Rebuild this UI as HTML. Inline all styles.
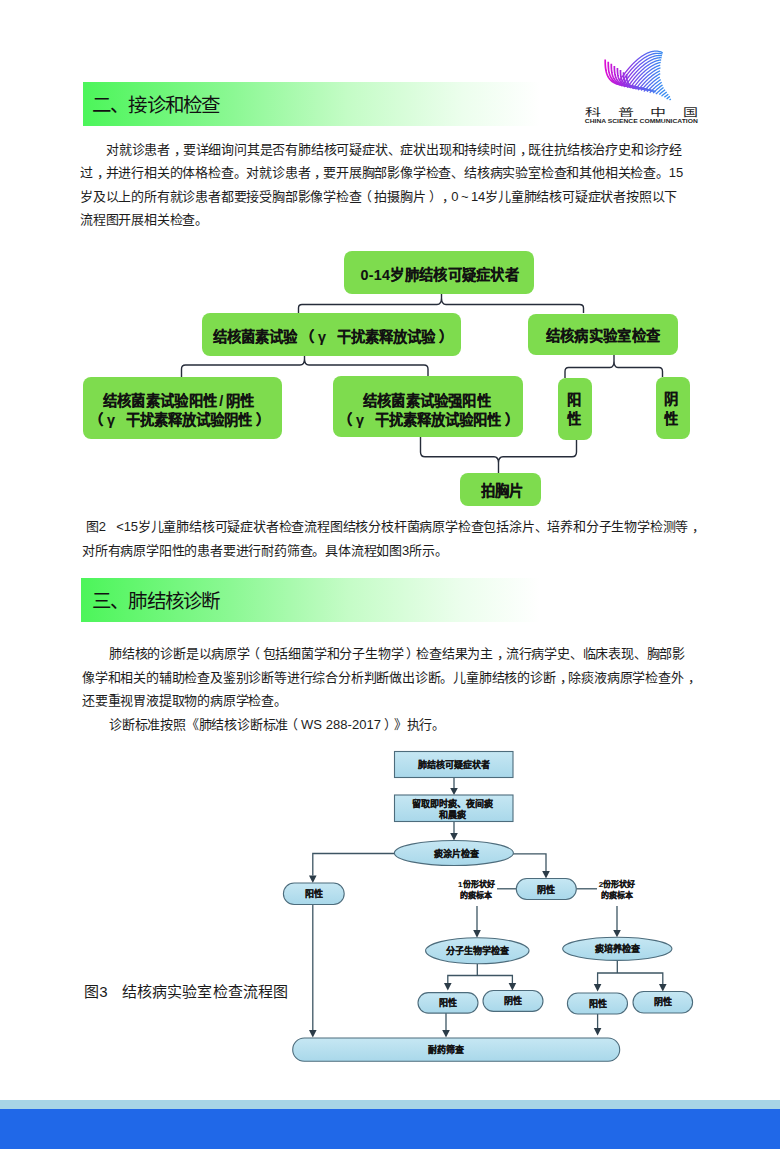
<!DOCTYPE html>
<html lang="zh-CN">
<head>
<meta charset="utf-8">
<style>
html,body{margin:0;padding:0;background:#fff;}
body{width:780px;height:1149px;position:relative;overflow:hidden;font-family:"Liberation Sans",sans-serif;color:#1a1a1a;}
.a{position:absolute;white-space:nowrap;}
.bar{position:absolute;left:83px;width:457px;height:44px;background:linear-gradient(90deg,#4cf55a 0%,#8cf894 33%,#c4fcc6 58%,#ecfeed 83%,#ffffff 100%);}
.ht{position:absolute;font-size:19.5px;letter-spacing:-1.8px;line-height:24px;color:#111;white-space:nowrap;}
.p{position:absolute;font-size:13px;letter-spacing:-0.2px;line-height:16px;white-space:nowrap;color:#1c1c1c;text-spacing-trim:space-all;}
.g{position:absolute;background:#7edc4e;border-radius:8px;}
.t{position:absolute;font-weight:bold;font-size:14.3px;line-height:20px;color:#111;white-space:nowrap;text-spacing-trim:space-all;-webkit-text-stroke:0.1px #111;}
.sl{display:inline-block;width:8.2px;text-align:center;}
.lp{display:inline-block;width:21px;text-indent:3px;}
.rp{display:inline-block;width:14.5px;text-indent:4.5px;}
.sp{display:inline-block;width:11px;}
i.cm,i.lq,i.rq{font-style:normal;position:relative;}
i.cm{left:4px;}
i.lq{left:-3px;}
i.rq{left:3px;}
i.tl{font-style:normal;display:inline-block;width:12.8px;text-align:center;}
.footer1{position:absolute;left:0;top:1100px;width:780px;height:9px;background:#a7d5e6;}
.footer2{position:absolute;left:0;top:1109px;width:780px;height:40px;background:#2068e8;}
</style>
</head>
<body>

<!-- logo -->
<svg class="a" style="left:580px;top:40px" width="130" height="90" viewBox="580 40 130 90">
  <defs>
    <linearGradient id="lg" x1="604" y1="0" x2="676" y2="0" gradientUnits="userSpaceOnUse">
      <stop offset="0" stop-color="#e20ad2"/>
      <stop offset="0.25" stop-color="#a02ae0"/>
      <stop offset="0.5" stop-color="#6a58ee"/>
      <stop offset="0.78" stop-color="#3a88f0"/>
      <stop offset="1" stop-color="#2e92f2"/>
    </linearGradient>
  </defs>
  <g id="swoosh" fill="none" stroke="url(#lg)" stroke-linecap="butt" stroke-linejoin="round">
<path d="M605.20 59.60 L605.22 62.65 L605.29 64.62 L605.40 66.31 L605.55 67.83 L605.74 69.24 L605.98 70.55 L606.26 71.78 L606.59 72.94 L606.95 74.04 L607.36 75.08 L607.82 76.06 L608.31 76.99 L608.85 77.87 L609.43 78.69 L610.06 79.47 L610.73 80.19 L611.44 80.87 L612.19 81.49 L613.00 82.07 L613.84 82.59 L614.74 83.07 L615.69 83.49 L616.69 83.87 L617.75 84.20 L618.89 84.47 L620.10 84.70 L621.41 84.87 L622.87 85.00 L624.57 85.07 L627.20 85.10 L629.60 85.65 L632.00 86.20 L634.40 86.75 L636.80 87.30 L639.20 87.85" stroke-width="1.7"/>
<path d="M608.26 61.70 L608.28 64.56 L608.34 66.41 L608.45 67.99 L608.59 69.42 L608.78 70.74 L609.01 71.97 L609.28 73.13 L609.60 74.22 L609.95 75.25 L610.35 76.23 L610.79 77.15 L611.27 78.02 L611.79 78.84 L612.35 79.62 L612.96 80.34 L613.60 81.02 L614.29 81.66 L615.02 82.24 L615.80 82.78 L616.62 83.27 L617.49 83.72 L618.41 84.12 L619.38 84.47 L620.40 84.78 L621.50 85.04 L622.67 85.25 L623.95 85.42 L625.36 85.53 L627.00 85.60 L629.54 85.63 L631.94 86.18 L634.34 86.73 L636.74 87.28 L639.14 87.83 L641.54 88.38" stroke-width="1.7"/>
<path d="M611.31 63.80 L611.33 66.47 L611.40 68.20 L611.50 69.68 L611.64 71.02 L611.82 72.25 L612.04 73.40 L612.31 74.48 L612.61 75.50 L612.95 76.46 L613.34 77.37 L613.76 78.23 L614.23 79.05 L614.73 79.82 L615.27 80.54 L615.86 81.22 L616.48 81.85 L617.15 82.45 L617.85 82.99 L618.60 83.50 L619.40 83.96 L620.24 84.37 L621.12 84.75 L622.06 85.08 L623.05 85.36 L624.11 85.61 L625.25 85.80 L626.48 85.96 L627.84 86.07 L629.43 86.14 L631.89 86.16 L634.29 86.71 L636.69 87.26 L639.09 87.81 L641.49 88.36 L643.89 88.91" stroke-width="1.7"/>
<path d="M614.37 65.90 L614.39 68.38 L614.45 69.99 L614.55 71.37 L614.68 72.61 L614.86 73.75 L615.08 74.82 L615.33 75.83 L615.62 76.78 L615.95 77.67 L616.33 78.52 L616.73 79.32 L617.18 80.08 L617.67 80.79 L618.19 81.46 L618.76 82.10 L619.36 82.69 L620.00 83.24 L620.68 83.74 L621.41 84.21 L622.17 84.64 L622.98 85.03 L623.84 85.38 L624.74 85.68 L625.70 85.95 L626.72 86.17 L627.82 86.36 L629.01 86.50 L630.32 86.60 L631.85 86.67 L634.23 86.69 L636.63 87.24 L639.03 87.79 L641.43 88.34 L643.83 88.89 L646.23 89.44" stroke-width="1.7"/>
<path d="M617.43 68.00 L617.45 70.30 L617.50 71.78 L617.60 73.05 L617.73 74.20 L617.90 75.26 L618.11 76.25 L618.35 77.18 L618.64 78.05 L618.95 78.88 L619.31 79.66 L619.71 80.41 L620.14 81.11 L620.61 81.77 L621.11 82.39 L621.66 82.97 L622.24 83.52 L622.86 84.02 L623.51 84.50 L624.21 84.93 L624.95 85.32 L625.73 85.68 L626.56 86.00 L627.43 86.29 L628.35 86.53 L629.34 86.74 L630.39 86.91 L631.54 87.04 L632.81 87.14 L634.28 87.20 L636.57 87.21 L638.97 87.76 L641.37 88.31 L643.77 88.86 L646.17 89.41 L648.57 89.96" stroke-width="1.7"/>
<path d="M620.49 70.10 L620.50 72.21 L620.56 73.57 L620.65 74.74 L620.78 75.79 L620.94 76.77 L621.14 77.67 L621.38 78.53 L621.65 79.33 L621.96 80.09 L622.30 80.81 L622.68 81.49 L623.09 82.13 L623.55 82.74 L624.03 83.31 L624.56 83.85 L625.11 84.35 L625.71 84.81 L626.34 85.25 L627.02 85.64 L627.73 86.01 L628.48 86.34 L629.27 86.63 L630.11 86.89 L631.00 87.12 L631.95 87.31 L632.97 87.46 L634.07 87.59 L635.29 87.67 L636.71 87.73 L638.91 87.74 L641.31 88.29 L643.71 88.84 L646.11 89.39 L648.51 89.94 L650.91 90.49" stroke-width="1.7"/>
<path d="M623.54 72.20 L623.56 74.12 L623.61 75.36 L623.70 76.43 L623.82 77.39 L623.98 78.27 L624.17 79.10 L624.40 79.88 L624.66 80.61 L624.96 81.30 L625.29 81.96 L625.65 82.58 L626.05 83.16 L626.48 83.71 L626.95 84.23 L627.45 84.72 L627.99 85.18 L628.57 85.60 L629.17 86.00 L629.82 86.36 L630.50 86.69 L631.22 86.99 L631.99 87.26 L632.80 87.50 L633.65 87.70 L634.56 87.88 L635.54 88.02 L636.60 88.13 L637.77 88.21 L639.14 88.26 L641.26 88.27 L643.66 88.82 L646.06 89.37 L648.46 89.92 L650.86 90.47 L653.26 91.02" stroke-width="1.7"/>
<path d="M626.60 74.30 L626.62 76.03 L626.67 77.15 L626.75 78.11 L626.87 78.98 L627.02 79.78 L627.20 80.53 L627.42 81.23 L627.67 81.89 L627.96 82.51 L628.27 83.10 L628.62 83.66 L629.01 84.19 L629.42 84.69 L629.87 85.16 L630.35 85.60 L630.87 86.01 L631.42 86.39 L632.00 86.75 L632.62 87.07 L633.28 87.37 L633.97 87.64 L634.70 87.89 L635.48 88.10 L636.30 88.29 L637.18 88.44 L638.11 88.57 L639.13 88.67 L640.26 88.74 L641.57 88.79 L643.60 88.80 L646.00 89.35 L648.40 89.90 L650.80 90.45 L653.20 91.00 L655.60 91.55" stroke-width="1.7"/>
<path d="M619.52 80.41 L620.12 79.61 L620.71 78.81 L621.31 78.01 L621.91 77.21 L622.51 76.41 L623.11 75.60 L623.70 74.80 L624.30 74.00 L624.90 73.20 L625.36 72.59 L625.83 71.97 L626.32 71.35 L626.81 70.73 L627.31 70.11 L627.83 69.48 L628.35 68.85 L628.88 68.23 L629.43 67.60 L629.98 66.98 L630.54 66.36 L631.11 65.74 L631.68 65.13 L632.27 64.52 L632.86 63.91 L633.46 63.31 L634.06 62.72 L634.68 62.13 L635.30 61.55 L635.92 60.98 L636.55 60.42 L637.19 59.86 L637.83 59.32 L638.48 58.79 L639.13 58.27 L639.79 57.76 L640.45 57.27 L641.11 56.79 L641.78 56.33 L642.45 55.88 L643.12 55.44 L643.80 55.02 L644.48 54.62 L645.16 54.24 L645.84 53.87 L646.53 53.53 L647.21 53.20 L647.90 52.90 L648.59 52.62 L649.28 52.36 L649.97 52.12 L650.65 51.90 L651.34 51.71 L652.03 51.54 L652.72 51.40 L653.40 51.29 L654.08 51.20 L654.77 51.14 L655.45 51.11 L656.12 51.10 L656.80 51.13 L657.47 51.18 L658.14 51.27 L658.80 51.39 L659.46 51.54 L660.12 51.72 L660.77 51.94 L661.42 52.19 L662.06 52.48 L662.70 52.80" stroke-width="1.3"/>
<path d="M619.33 85.02 L619.92 84.22 L620.52 83.42 L621.12 82.61 L621.72 81.81 L622.31 81.01 L622.91 80.21 L623.51 79.41 L624.11 78.61 L624.71 77.80 L625.30 77.00 L625.90 76.20 L626.50 75.40 L626.96 74.79 L627.43 74.17 L627.92 73.55 L628.41 72.93 L628.91 72.31 L629.43 71.68 L629.95 71.05 L630.48 70.43 L631.03 69.80 L631.58 69.18 L632.14 68.56 L632.71 67.94 L633.28 67.33 L633.87 66.72 L634.46 66.11 L635.06 65.51 L635.66 64.92 L636.28 64.33 L636.90 63.75 L637.52 63.18 L638.15 62.62 L638.79 62.06 L639.43 61.52 L640.08 60.99 L640.73 60.47 L641.39 59.96 L642.05 59.47 L642.71 58.99 L643.38 58.53 L644.05 58.08 L644.72 57.64 L645.40 57.22 L646.08 56.82 L646.76 56.44 L647.44 56.07 L648.13 55.73 L648.81 55.40 L649.50 55.10 L650.19 54.82 L650.88 54.56 L651.57 54.32 L652.25 54.10 L652.94 53.91 L653.63 53.74 L654.32 53.60 L655.00 53.49 L655.68 53.40 L656.37 53.34 L657.05 53.31 L657.72 53.30 L658.40 53.33 L659.07 53.38 L659.74 53.47 L660.40 53.59 L661.06 53.74 L661.72 53.92 L662.37 54.14" stroke-width="1.3"/>
<path d="M621.52 86.42 L622.12 85.62 L622.72 84.81 L623.32 84.01 L623.91 83.21 L624.51 82.41 L625.11 81.61 L625.71 80.81 L626.31 80.00 L626.90 79.20 L627.50 78.40 L628.10 77.60 L628.56 76.99 L629.03 76.37 L629.52 75.75 L630.01 75.13 L630.51 74.51 L631.03 73.88 L631.55 73.25 L632.08 72.63 L632.63 72.00 L633.18 71.38 L633.74 70.76 L634.31 70.14 L634.88 69.53 L635.47 68.92 L636.06 68.31 L636.66 67.71 L637.26 67.12 L637.88 66.53 L638.50 65.95 L639.12 65.38 L639.75 64.82 L640.39 64.26 L641.03 63.72 L641.68 63.19 L642.33 62.67 L642.99 62.16 L643.65 61.67 L644.31 61.19 L644.98 60.73 L645.65 60.27 L646.32 59.84 L647.00 59.42 L647.68 59.02 L648.36 58.64 L649.04 58.27 L649.73 57.93 L650.41 57.60 L651.10 57.30 L651.79 57.02 L652.48 56.76 L653.17 56.52 L653.85 56.30 L654.54 56.11 L655.23 55.94 L655.92 55.80 L656.60 55.69 L657.28 55.60 L657.97 55.54 L658.65 55.51 L659.32 55.50 L660.00 55.53 L660.67 55.58 L661.34 55.67 L662.00 55.79" stroke-width="1.3"/>
<path d="M624.32 87.01 L624.92 86.21 L625.51 85.41 L626.11 84.61 L626.71 83.81 L627.31 83.01 L627.91 82.20 L628.50 81.40 L629.10 80.60 L629.70 79.80 L630.16 79.19 L630.63 78.57 L631.12 77.95 L631.61 77.33 L632.11 76.71 L632.63 76.08 L633.15 75.45 L633.68 74.83 L634.23 74.20 L634.78 73.58 L635.34 72.96 L635.91 72.34 L636.48 71.73 L637.07 71.12 L637.66 70.51 L638.26 69.91 L638.86 69.32 L639.48 68.73 L640.10 68.15 L640.72 67.58 L641.35 67.02 L641.99 66.46 L642.63 65.92 L643.28 65.39 L643.93 64.87 L644.59 64.36 L645.25 63.87 L645.91 63.39 L646.58 62.93 L647.25 62.48 L647.92 62.04 L648.60 61.62 L649.28 61.22 L649.96 60.84 L650.64 60.47 L651.33 60.13 L652.01 59.80 L652.70 59.50 L653.39 59.22 L654.08 58.96 L654.77 58.72 L655.45 58.50 L656.14 58.31 L656.83 58.14 L657.52 58.00 L658.20 57.89 L658.88 57.80 L659.57 57.74 L660.25 57.71 L660.92 57.70 L661.60 57.73" stroke-width="1.3"/>
<path d="M627.11 87.61 L627.71 86.81 L628.31 86.01 L628.91 85.21 L629.51 84.40 L630.10 83.60 L630.70 82.80 L631.30 82.00 L631.76 81.39 L632.23 80.77 L632.72 80.15 L633.21 79.53 L633.71 78.91 L634.23 78.28 L634.75 77.65 L635.28 77.03 L635.83 76.40 L636.38 75.78 L636.94 75.16 L637.51 74.54 L638.08 73.93 L638.67 73.32 L639.26 72.71 L639.86 72.11 L640.46 71.52 L641.08 70.93 L641.70 70.35 L642.32 69.78 L642.95 69.22 L643.59 68.66 L644.23 68.12 L644.88 67.59 L645.53 67.07 L646.19 66.56 L646.85 66.07 L647.51 65.59 L648.18 65.13 L648.85 64.67 L649.52 64.24 L650.20 63.82 L650.88 63.42 L651.56 63.04 L652.24 62.67 L652.93 62.33 L653.61 62.00 L654.30 61.70 L654.99 61.42 L655.68 61.16 L656.37 60.92 L657.05 60.70 L657.74 60.51 L658.43 60.34 L659.12 60.20 L659.80 60.09 L660.48 60.00 L661.17 59.94" stroke-width="1.3"/>
<path d="M629.91 88.21 L630.51 87.41 L631.11 86.60 L631.70 85.80 L632.30 85.00 L632.90 84.20 L633.36 83.59 L633.83 82.97 L634.32 82.35 L634.81 81.73 L635.31 81.11 L635.83 80.48 L636.35 79.85 L636.88 79.23 L637.43 78.60 L637.98 77.98 L638.54 77.36 L639.11 76.74 L639.68 76.13 L640.27 75.52 L640.86 74.91 L641.46 74.31 L642.06 73.72 L642.68 73.13 L643.30 72.55 L643.92 71.98 L644.55 71.42 L645.19 70.86 L645.83 70.32 L646.48 69.79 L647.13 69.27 L647.79 68.76 L648.45 68.27 L649.11 67.79 L649.78 67.33 L650.45 66.88 L651.12 66.44 L651.80 66.02 L652.48 65.62 L653.16 65.24 L653.84 64.87 L654.53 64.53 L655.21 64.20 L655.90 63.90 L656.59 63.62 L657.28 63.36 L657.97 63.12 L658.65 62.90 L659.34 62.71 L660.03 62.54 L660.72 62.40" stroke-width="1.3"/>
<path d="M632.71 88.80 L633.30 88.00 L633.90 87.20 L634.50 86.40 L634.96 85.79 L635.43 85.17 L635.92 84.55 L636.41 83.93 L636.91 83.31 L637.43 82.68 L637.95 82.05 L638.48 81.43 L639.03 80.80 L639.58 80.18 L640.14 79.56 L640.71 78.94 L641.28 78.33 L641.87 77.72 L642.46 77.11 L643.06 76.51 L643.66 75.92 L644.28 75.33 L644.90 74.75 L645.52 74.18 L646.15 73.62 L646.79 73.06 L647.43 72.52 L648.08 71.99 L648.73 71.47 L649.39 70.96 L650.05 70.47 L650.71 69.99 L651.38 69.53 L652.05 69.08 L652.72 68.64 L653.40 68.22 L654.08 67.82 L654.76 67.44 L655.44 67.07 L656.13 66.73 L656.81 66.40 L657.50 66.10 L658.19 65.82 L658.88 65.56 L659.57 65.32 L660.25 65.10" stroke-width="1.3"/>
<path d="M635.50 89.40 L636.10 88.60 L636.56 87.99 L637.03 87.37 L637.52 86.75 L638.01 86.13 L638.51 85.51 L639.03 84.88 L639.55 84.25 L640.08 83.63 L640.63 83.00 L641.18 82.38 L641.74 81.76 L642.31 81.14 L642.88 80.53 L643.47 79.92 L644.06 79.31 L644.66 78.71 L645.26 78.12 L645.88 77.53 L646.50 76.95 L647.12 76.38 L647.75 75.82 L648.39 75.26 L649.03 74.72 L649.68 74.19 L650.33 73.67 L650.99 73.16 L651.65 72.67 L652.31 72.19 L652.98 71.73 L653.65 71.28 L654.32 70.84 L655.00 70.42 L655.68 70.02 L656.36 69.64 L657.04 69.27 L657.73 68.93 L658.41 68.60 L659.10 68.30 L659.79 68.02 L660.48 67.76" stroke-width="1.3"/>
<path d="M638.16 90.19 L638.63 89.57 L639.12 88.95 L639.61 88.33 L640.11 87.71 L640.63 87.08 L641.15 86.45 L641.68 85.83 L642.23 85.20 L642.78 84.58 L643.34 83.96 L643.91 83.34 L644.48 82.73 L645.07 82.12 L645.66 81.51 L646.26 80.91 L646.86 80.32 L647.48 79.73 L648.10 79.15 L648.72 78.58 L649.35 78.02 L649.99 77.46 L650.63 76.92 L651.28 76.39 L651.93 75.87 L652.59 75.36 L653.25 74.87 L653.91 74.39 L654.58 73.93 L655.25 73.47 L655.92 73.04 L656.60 72.62 L657.28 72.22 L657.96 71.84 L658.64 71.47 L659.33 71.13 L660.01 70.80" stroke-width="1.3"/>
<path d="M641.21 90.53 L641.71 89.91 L642.23 89.28 L642.75 88.65 L643.28 88.03 L643.83 87.40 L644.38 86.78 L644.94 86.16 L645.51 85.54 L646.08 84.93 L646.67 84.32 L647.26 83.71 L647.86 83.11 L648.46 82.52 L649.08 81.93 L649.70 81.35 L650.32 80.78 L650.95 80.22 L651.59 79.66 L652.23 79.12 L652.88 78.59 L653.53 78.07 L654.19 77.56 L654.85 77.07 L655.51 76.59 L656.18 76.13 L656.85 75.67 L657.52 75.24 L658.20 74.82 L658.88 74.42 L659.56 74.04 L660.24 73.67" stroke-width="1.3"/>
<path d="M643.83 91.48 L644.35 90.85 L644.88 90.23 L645.43 89.60 L645.98 88.98 L646.54 88.36 L647.11 87.74 L647.68 87.13 L648.27 86.52 L648.86 85.91 L649.46 85.31 L650.06 84.72 L650.68 84.13 L651.30 83.55 L651.92 82.98 L652.55 82.42 L653.19 81.86 L653.83 81.32 L654.48 80.79 L655.13 80.27 L655.79 79.76 L656.45 79.27 L657.11 78.79 L657.78 78.33 L658.45 77.88 L659.12 77.44 L659.80 77.02" stroke-width="1.3"/>
<path d="M647.03 91.80 L647.58 91.18 L648.14 90.56 L648.71 89.94 L649.28 89.33 L649.87 88.72 L650.46 88.11 L651.06 87.51 L651.66 86.92 L652.28 86.33 L652.90 85.75 L653.52 85.18 L654.15 84.62 L654.79 84.06 L655.43 83.52 L656.08 82.99 L656.73 82.47 L657.39 81.96 L658.05 81.47 L658.71 80.99 L659.38 80.53 L660.05 80.08 L660.72 79.64" stroke-width="1.3"/>
<path d="M649.74 92.76 L650.31 92.14 L650.88 91.53 L651.47 90.92 L652.06 90.31 L652.66 89.71 L653.26 89.12 L653.88 88.53 L654.50 87.95 L655.12 87.38 L655.75 86.82 L656.39 86.26 L657.03 85.72 L657.68 85.19 L658.33 84.67 L658.99 84.16 L659.65 83.67 L660.31 83.19 L660.98 82.73 L661.65 82.28" stroke-width="1.3"/>
<path d="M653.07 93.12 L653.66 92.51 L654.26 91.91 L654.86 91.32 L655.48 90.73 L656.10 90.15 L656.72 89.58 L657.35 89.02 L657.99 88.46 L658.63 87.92 L659.28 87.39 L659.93 86.87 L660.59 86.36 L661.25 85.87 L661.91 85.39 L662.58 84.93" stroke-width="1.3"/>
<path d="M655.86 94.11 L656.46 93.52 L657.08 92.93 L657.70 92.35 L658.32 91.78 L658.95 91.22 L659.59 90.66 L660.23 90.12 L660.88 89.59 L661.53 89.07 L662.19 88.56 L662.85 88.07 L663.51 87.59" stroke-width="1.3"/>
<path d="M659.30 94.55 L659.92 93.98 L660.55 93.42 L661.19 92.86 L661.83 92.32 L662.48 91.79 L663.13 91.27 L663.79 90.76 L664.45 90.27 L665.11 89.79" stroke-width="1.3"/>
<path d="M661.52 96.18 L662.15 95.62 L662.79 95.06 L663.43 94.52 L664.08 93.99 L664.73 93.47 L665.39 92.96 L666.05 92.47 L666.71 91.99" stroke-width="1.3"/>
<path d="M664.39 97.26 L665.03 96.72 L665.68 96.19 L666.33 95.67 L666.99 95.16 L667.65 94.67 L668.31 94.19" stroke-width="1.3"/>
<path d="M666.63 98.92 L667.28 98.39 L667.93 97.87 L668.59 97.36 L669.25 96.87 L669.91 96.39" stroke-width="1.3"/>
<path d="M669.53 100.07 L670.19 99.56 L670.85 99.07" stroke-width="1.3"/>
</g>
  <g font-size="10" fill="#1e1e1e"><text transform="translate(584.8 116.3) scale(1.6 1)">科</text><text transform="translate(617.7 116.3) scale(1.6 1)">普</text><text transform="translate(649.7 116.3) scale(1.6 1)">中</text><text transform="translate(682.6 116.3) scale(1.5 1)">国</text></g>
  <text x="584.8" y="123.3" font-size="5.6" fill="#1e1e1e" font-weight="bold" textLength="113" lengthAdjust="spacingAndGlyphs">CHINA SCIENCE COMMUNICATION</text>
</svg>

<!-- section 2 header -->
<div class="bar" style="top:82px"></div>
<div class="ht" style="left:92px;top:92.5px">二、接诊和检查</div>

<div class="p" style="left:106px;top:142px">对就诊患者<i class="cm">，</i>要详细询问其是否有肺结核可疑症状、症状出现和持续时间<i class="cm">，</i>既往抗结核治疗史和诊疗经</div>
<div class="p" style="left:80px;top:165px">过<i class="cm">，</i>并进行相关的体格检查。对就诊患者<i class="cm">，</i>要开展胸部影像学检查、结核病实验室检查和其他相关检查。15</div>
<div class="p" style="left:80px;top:189px">岁及以上的所有就诊患者都要接受胸部影像学检查<i class="lq">（</i>拍摄胸片<i class="rq">）</i><i class="cm">，</i>0<i class="tl">~</i>14岁儿童肺结核可疑症状者按照以下</div>
<div class="p" style="left:80px;top:212px">流程图开展相关检查。</div>

<!-- flowchart 1 -->
<svg class="a" style="left:0;top:0" width="780" height="520" viewBox="0 0 780 520">
  <g fill="none" stroke="#262c3a" stroke-width="1.4" stroke-linejoin="round">
    <path d="M298.5 313 V308 Q298.5 304.5 302 304.5 H437 Q441.5 304.5 441.5 298 V294 M441.5 298 Q441.5 304.5 446 304.5 H579.5 Q583.5 304.5 583.5 308 V313"/>
    <path d="M181.5 377 V369 Q181.5 365 185.5 365 H300 Q304.5 365 304.5 359 V356 M304.5 359 Q304.5 365 309 365 H424 Q428 365 428 369 V376"/>
    <path d="M565 378 V371.5 Q565 367.5 568.5 367.5 H610 Q614 367.5 614 361 V354 M614 361 Q614 367.5 618 367.5 H659 Q662.5 367.5 662.5 371.5 V377"/>
    <path d="M420.5 436 V452 Q420.5 456.8 425 456.8 H494 Q498.5 456.8 498.5 463 V473 M498.5 463 Q498.5 456.8 503 456.8 H572 Q576.5 456.8 576.5 452 V439"/>
  </g>
</svg>
<div class="g" style="left:344px;top:251px;width:190px;height:43px"></div>
<div class="g" style="left:202px;top:313px;width:259px;height:43px"></div>
<div class="g" style="left:528px;top:313.5px;width:150px;height:41px"></div>
<div class="g" style="left:83px;top:376.5px;width:199px;height:62px"></div>
<div class="g" style="left:332.5px;top:376px;width:190px;height:61px"></div>
<div class="g" style="left:558px;top:377.5px;width:34px;height:62px"></div>
<div class="g" style="left:655.5px;top:377px;width:34.5px;height:61.5px"></div>
<div class="g" style="left:459.5px;top:472.5px;width:81.5px;height:33.5px"></div>
<div class="t" style="left:360.5px;top:264.5px;letter-spacing:0.3px">0-14岁肺结核可疑症状者</div>
<div class="t" style="left:213px;top:327px">结核菌素试验<span class="lp">（</span>γ<span class="sp"></span>干扰素释放试验<span class="rp">）</span></div>
<div class="t" style="left:545.5px;top:326px;letter-spacing:0.35px">结核病实验室检查</div>
<div class="t" style="left:102.5px;top:390.5px;letter-spacing:0.35px">结核菌素试验阳性<span class="sl">/</span>阴性</div>
<div class="t" style="left:86px;top:410px"><span class="lp">（</span>γ<span class="sp"></span>干扰素释放试验阴性<span class="rp">）</span></div>
<div class="t" style="left:363px;top:391px;letter-spacing:0.2px">结核菌素试验强阳性</div>
<div class="t" style="left:335px;top:410px"><span class="lp">（</span>γ<span class="sp"></span>干扰素释放试验阳性<span class="rp">）</span></div>
<div class="t" style="left:567px;top:389.5px">阳</div>
<div class="t" style="left:567px;top:409px">性</div>
<div class="t" style="left:663.5px;top:389px">阴</div>
<div class="t" style="left:663.5px;top:409px">性</div>
<div class="t" style="left:480.5px;top:481px">拍胸片</div>

<!-- caption -->
<div class="p" style="left:86px;top:519px">图2<span style="display:inline-block;width:10.5px"></span>&lt;15岁儿童肺结核可疑症状者检查流程图结核分枝杆菌病原学检查包括涂片、培养和分子生物学检测等<i class="cm">，</i></div>
<div class="p" style="left:82px;top:543px">对所有病原学阳性的患者要进行耐药筛查。具体流程如图3所示。</div>

<!-- section 3 header -->
<div class="bar" style="top:578px;left:81px;width:459px"></div>
<div class="ht" style="left:92px;top:588.5px">三、肺结核诊断</div>

<div class="p" style="left:109px;top:646px">肺结核的诊断是以病原学<i class="lq">（</i>包括细菌学和分子生物学<i class="rq">）</i>检查结果为主<i class="cm">，</i>流行病学史、临床表现、胸部影</div>
<div class="p" style="left:82px;top:670px">像学和相关的辅助检查及鉴别诊断等进行综合分析判断做出诊断。儿童肺结核的诊断<i class="cm">，</i>除痰液病原学检查外<i class="cm">，</i></div>
<div class="p" style="left:82px;top:693px">还要重视胃液提取物的病原学检查。</div>
<div class="p" style="left:109px;top:717px">诊断标准按照《肺结核诊断标准<i class="lq">（</i><span style="letter-spacing:0.05px">WS 288-2017</span><i class="rq">）</i>》执行。</div>

<!-- figure 3 caption -->
<div class="a" style="left:84px;top:982px;font-size:15px;line-height:20px;color:#1a1a1a;letter-spacing:0.15px">图3<span style="display:inline-block;width:14px"></span>结核病实验室检查流程图</div>

<!-- flowchart 2 -->
<svg class="a" style="left:0;top:0" width="780" height="1149" viewBox="0 0 780 1149" font-family="'Liberation Sans',sans-serif" font-weight="bold" font-size="9" text-anchor="middle">
  <defs>
    <linearGradient id="bl" x1="0" y1="0" x2="0" y2="1">
      <stop offset="0" stop-color="#c6e7f3"/>
      <stop offset="1" stop-color="#a9d8ea"/>
    </linearGradient>
    <marker id="ar" markerWidth="8" markerHeight="8" refX="4" refY="7" orient="auto-start-reverse" markerUnits="userSpaceOnUse" viewBox="0 0 8 8">
      <path d="M0 0 L8 0 L4 7.5 Z" fill="#2c3c48"/>
    </marker>
  </defs>
  <g fill="none" stroke="#3d5563" stroke-width="1.3">
    <path d="M454 777.5 V788"/>
    <path d="M454 821.5 V833"/>
    <path d="M394.5 853.5 H312.8 V875.5"/>
    <path d="M312.8 904.6 V1030"/>
    <path d="M513 853.8 H546 V871"/>
    <path d="M516.3 888.8 H497"/>
    <path d="M576.3 888.8 H597"/>
    <path d="M477 906 V930"/>
    <path d="M617 906 V930"/>
    <path d="M477.3 963.8 V975.5 M447.8 983 V975.5 H512.4 V983"/>
    <path d="M446 1013 V1030"/>
    <path d="M617.3 960.4 V973 M597.6 984 V973 H662.8 V984"/>
    <path d="M597.6 1014 V1028"/>
  </g>
  <g fill="#2c3c48">
    <path d="M450.2 788 H457.8 L454 795 Z"/>
    <path d="M450.2 833 H457.8 L454 840.5 Z"/>
    <path d="M309 875.5 H316.6 L312.8 883 Z"/>
    <path d="M542.2 871 H549.8 L546 878.5 Z"/>
    <path d="M473.2 930 H480.8 L477 937.8 Z"/>
    <path d="M613.2 930 H620.8 L617 937.2 Z"/>
    <path d="M444 983 H451.6 L447.8 990.5 Z"/>
    <path d="M508.6 983 H516.2 L512.4 990.5 Z"/>
    <path d="M442.2 1030 H449.8 L446 1037.5 Z"/>
    <path d="M593.8 984 H601.4 L597.6 991.5 Z"/>
    <path d="M659 984 H666.6 L662.8 991.5 Z"/>
    <path d="M593.8 1028 H601.4 L597.6 1035.5 Z"/>
    <path d="M309 1030 H316.6 L312.8 1037.5 Z"/>
  </g>
  <g fill="url(#bl)" stroke="#4d6c7c" stroke-width="1.1">
    <rect x="394.5" y="751.5" width="118.5" height="26"/>
    <rect x="394.5" y="795" width="118.5" height="26.5"/>
    <ellipse cx="453.9" cy="853" rx="59.5" ry="12.5"/>
    <rect x="283.4" y="883" width="60.8" height="21.5" rx="10.75"/>
    <rect x="516.3" y="878.5" width="60" height="21" rx="10.5"/>
    <ellipse cx="477.3" cy="950.8" rx="51.7" ry="13"/>
    <ellipse cx="617.3" cy="948.8" rx="54.6" ry="11.6"/>
    <rect x="418" y="992.6" width="60" height="20.5" rx="10.25"/>
    <rect x="483" y="990.5" width="60" height="20.9" rx="10.45"/>
    <rect x="567.4" y="993" width="60.1" height="21" rx="10.5"/>
    <rect x="633" y="991.5" width="59.6" height="21.5" rx="10.75"/>
    <rect x="292.7" y="1038" width="327" height="23.3" rx="11.65"/>
  </g>
  <g fill="#111" stroke="#111" stroke-width="0.12">
    <text x="454" y="768">肺结核可疑症状者</text>
    <text x="452.5" y="806.5">留取即时痰、夜间痰</text>
    <text x="452.5" y="817.5">和晨痰</text>
    <text x="456" y="856.5">痰涂片检查</text>
    <text x="313.8" y="897.3">阳性</text>
    <text x="546.3" y="892.5">阴性</text>
    <text x="476.3" y="886.5" font-size="8">1份形状好</text>
    <text x="476.3" y="898" font-size="8">的痰标本</text>
    <text x="617" y="886.5" font-size="8">2份形状好</text>
    <text x="617" y="898" font-size="8">的痰标本</text>
    <text x="477.3" y="954.3">分子生物学检查</text>
    <text x="617.3" y="952.3">痰培养检查</text>
    <text x="448" y="1006">阳性</text>
    <text x="513" y="1004">阴性</text>
    <text x="597.5" y="1006.5">阳性</text>
    <text x="662.8" y="1005">阴性</text>
    <text x="446" y="1053">耐药筛查</text>
  </g>
</svg>

<div class="footer1"></div>
<div class="footer2"></div>
</body>
</html>
